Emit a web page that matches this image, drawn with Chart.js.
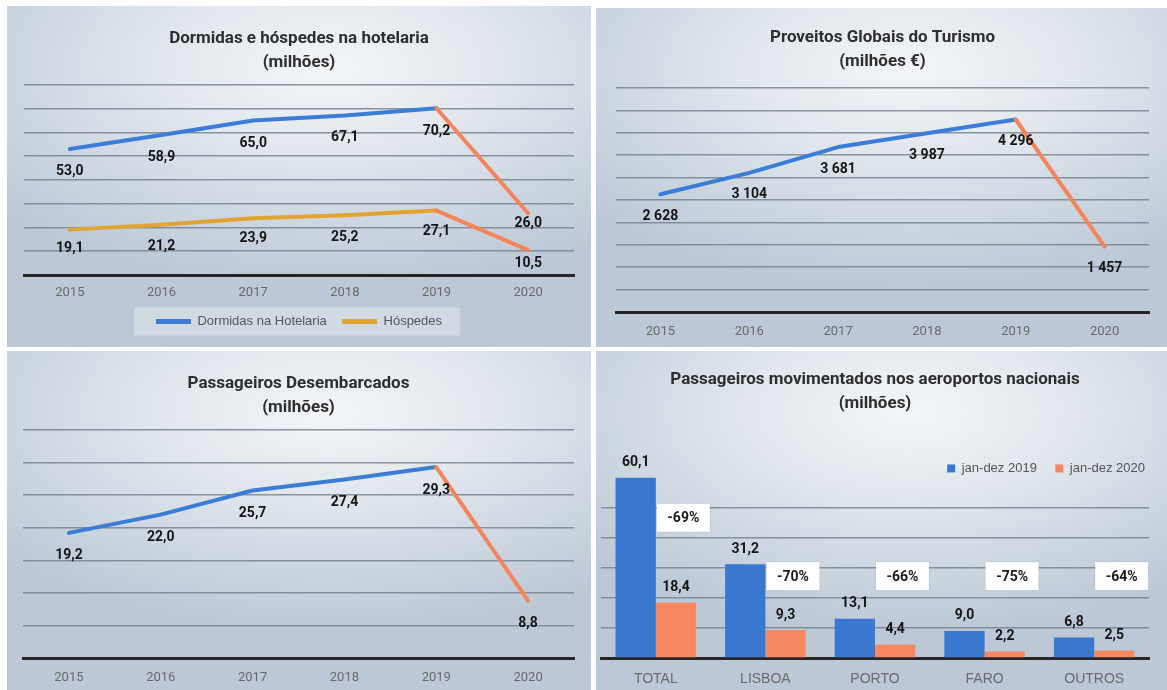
<!DOCTYPE html>
<html>
<head>
<meta charset="utf-8">
<script src="https://cdn.jsdelivr.net/npm/chart.js@4/dist/chart.umd.min.js"></script>
<style>
  body { margin: 0; background: #fff; width: 1167px; height: 690px; overflow: hidden; position: relative; }
  .panel {
    position: absolute;
    background: radial-gradient(ellipse 75% 65% at 55% 18%, #f3f5f7 0%, #e1e7ed 38%, #ccd6e0 72%, #bcc8d6 100%);
  }
  .panel canvas { display: block; }
</style>
</head>
<body>
<div class="panel" style="left:7px;top:6px;width:584px;height:341px"><canvas id="c1" width="584" height="341"></canvas></div>
<div class="panel" style="left:596px;top:8px;width:571px;height:339px"><canvas id="c2" width="571" height="339"></canvas></div>
<div class="panel" style="left:7px;top:351px;width:584px;height:339px"><canvas id="c3" width="584" height="339"></canvas></div>
<div class="panel" style="left:596px;top:351px;width:571px;height:339px"><canvas id="c4" width="571" height="339"></canvas></div>
<script>
// data
const years = ["2015", "2016", "2017", "2018", "2019", "2020"];
const dormidas = [53.0, 58.9, 65.0, 67.1, 70.2, 26.0];
const hospedes = [19.1, 21.2, 23.9, 25.2, 27.1, 10.5];
const proveitos = [2628, 3104, 3681, 3987, 4296, 1457];
const desembarcados = [19.2, 22.0, 25.7, 27.4, 29.3, 8.8];

const airports = ["TOTAL", "LISBOA", "PORTO", "FARO", "OUTROS"];
const pax2019 = [60.1, 31.2, 13.1, 9.0, 6.8];
const pax2020 = [18.4, 9.3, 4.4, 2.2, 2.5];
const paxChange = ["-69%", "-70%", "-66%", "-75%", "-64%"];
const paxChangeAt = [46.7, 27.3, 27.3, 27.3, 27.3]; // where each box sits (millions)

// look
const BLUE = "#3b7dd6";
const ORANGE = "#f5835b";
const GOLD = "#e2a332";
const BAR_BLUE = "#3a78d0";
const BAR_ORANGE = "#f7875f";
const GRID = "rgba(120,132,146,0.85)";
const NARROW = "Roboto, 'Liberation Sans', sans-serif";
const SANS = "'Liberation Sans', Arial, sans-serif";

const dec1 = v => v.toFixed(1).replace(".", ",");
const thousands = v => String(v).replace(/\B(?=(\d{3})+(?!\d))/g, " ");

function valueLabels({ dy, font, fmt, color = "#151515" }) {
  return {
    id: "valueLabels",
    afterDatasetsDraw(chart) {
      const { ctx } = chart;
      ctx.save();
      ctx.font = font;
      ctx.fillStyle = color;
      ctx.textAlign = "center";
      ctx.textBaseline = "middle";
      chart.data.datasets.forEach((ds, i) => {
        const off = Array.isArray(dy[0]) ? dy[i] : dy;
        chart.getDatasetMeta(i).data.forEach((el, j) => {
          const d = Array.isArray(off) ? off[j] : off;
          ctx.fillText(fmt(ds.data[j]), el.x, el.y + d);
        });
      });
      ctx.restore();
    }
  };
}

// light plate behind the legend of the first chart
const legendPlate = {
  id: "legendPlate",
  beforeDraw(chart) {
    const lg = chart.legend;
    if (!lg || !lg.legendHitBoxes || !lg.legendHitBoxes.length) return;
    const hb = lg.legendHitBoxes;
    const x0 = hb[0].left - 22;
    const x1 = hb[hb.length - 1].left + hb[hb.length - 1].width + 18;
    const cy = hb[0].top + hb[0].height / 2;
    chart.ctx.save();
    chart.ctx.fillStyle = "rgba(235,240,245,0.45)";
    chart.ctx.fillRect(x0, cy - 14, x1 - x0, 28);
    chart.ctx.restore();
  }
};

// legend of the bar chart sits a little inside the plot, over the empty top
const legendDrop = {
  id: "legendDrop",
  afterLayout(chart) {
    const lg = chart.legend;
    lg.top += 7;
    lg.bottom += 7;
  }
};

const changeBoxes = {
  id: "changeBoxes",
  afterDatasetsDraw(chart) {
    const { ctx, scales: { x, y } } = chart;
    ctx.save();
    paxChange.forEach((txt, i) => {
      const left = x.getPixelForValue(i) + 1;
      const cy = y.getPixelForValue(paxChangeAt[i]);
      ctx.shadowColor = "rgba(0,0,0,0.12)";
      ctx.shadowBlur = 2;
      ctx.fillStyle = "#ffffff";
      ctx.fillRect(left, cy - 14, 53, 28);
      ctx.shadowColor = "transparent";
      ctx.fillStyle = "#1a1a1a";
      ctx.font = "bold 14px " + NARROW;
      ctx.textAlign = "center";
      ctx.textBaseline = "middle";
      ctx.fillText(txt, left + 26.5, cy + 1);
    });
    ctx.restore();
  }
};

function titleOpts(lines, top, bottom) {
  return {
    display: true,
    text: lines,
    color: "#2e2e2e",
    font: { family: NARROW, size: 17, weight: "bold", lineHeight: 1.41 },
    padding: { top, bottom }
  };
}

function yOpts(max, step, hide = []) {
  return {
    min: 0, max,
    ticks: { display: false, stepSize: step },
    border: { display: false },
    grid: {
      drawTicks: false,
      lineWidth: 1.5,
      color: c => (c.tick.value === 0 || hide.includes(c.tick.value)) ? "transparent" : GRID
    }
  };
}

function xOpts(pad, font, height) {
  return {
    offset: true,
    grid: { display: false, drawTicks: false },
    border: { display: true, color: "#262626", width: 3 },
    ticks: { color: "#6a6a6a", font, padding: pad, maxRotation: 0 },
    afterFit: s => { s.height = height; }
  };
}

function lineSet(label, data, main, drop) {
  return {
    label, data,
    borderColor: main,
    backgroundColor: main,
    borderWidth: 4,
    borderCapStyle: "round",
    borderJoinStyle: "round",
    pointRadius: 0,
    tension: 0,
    clip: false,
    segment: { borderColor: c => c.p0DataIndex === 4 ? drop : main }
  };
}

Chart.defaults.animation = false;
Chart.defaults.responsive = false;
Chart.defaults.plugins.tooltip.enabled = false;

const YEAR_FONT = { family: NARROW, size: 13 };
const VALUE_FONT = "bold 14px " + NARROW;

// 1. Dormidas e hóspedes
new Chart(document.getElementById("c1"), {
  type: "line",
  data: {
    labels: years,
    datasets: [
      lineSet("Dormidas na Hotelaria", dormidas, BLUE, ORANGE),
      lineSet("Hóspedes", hospedes, GOLD, ORANGE)
    ]
  },
  options: {
    layout: { padding: { left: 17, right: 17, top: 0, bottom: 9 } },
    scales: {
      x: xOpts(10, YEAR_FONT, 32),
      y: yOpts(80, 10)
    },
    plugins: {
      title: titleOpts(["Dormidas e hóspedes na hotelaria", "(milhões)"], 21, 10),
      legend: {
        position: "bottom",
        labels: {
          color: "#555",
          font: { family: SANS, size: 13 },
          boxWidth: 35,
          boxHeight: 5,
          padding: 8,
          generateLabels: ch => Chart.defaults.plugins.legend.labels.generateLabels(ch).map((l, i) => ({
            ...l, lineWidth: 0, text: i === 0 ? l.text + "  " : l.text
          }))
        }
      }
    }
  },
  plugins: [legendPlate, valueLabels({
    dy: [[22, 22, 23, 22, 23, 10], [19, 22, 20, 22, 21, 13]],
    font: VALUE_FONT,
    fmt: dec1
  })]
});

// 2. Proveitos globais
new Chart(document.getElementById("c2"), {
  type: "line",
  data: {
    labels: years,
    datasets: [lineSet("Proveitos", proveitos, BLUE, ORANGE)]
  },
  options: {
    layout: { padding: { left: 20, right: 18, top: 0, bottom: 0 } },
    scales: {
      x: xOpts(12, YEAR_FONT, 35),
      y: yOpts(5000, 500)
    },
    plugins: {
      title: titleOpts(["Proveitos Globais do Turismo", "(milhões €)"], 18, 14),
      legend: { display: false }
    }
  },
  plugins: [valueLabels({ dy: 22, font: VALUE_FONT, fmt: thousands })]
});

// 3. Passageiros desembarcados
new Chart(document.getElementById("c3"), {
  type: "line",
  data: {
    labels: years,
    datasets: [lineSet("Passageiros", desembarcados, BLUE, ORANGE)]
  },
  options: {
    layout: { padding: { left: 16, right: 17, top: 0, bottom: 0 } },
    scales: {
      x: xOpts(12, YEAR_FONT, 32),
      y: yOpts(35, 5)
    },
    plugins: {
      title: titleOpts(["Passageiros Desembarcados", "(milhões)"], 21, 10),
      legend: { display: false }
    }
  },
  plugins: [valueLabels({ dy: 23, font: VALUE_FONT, fmt: dec1 })]
});

// 4. Passageiros nos aeroportos
new Chart(document.getElementById("c4"), {
  type: "bar",
  data: {
    labels: airports,
    datasets: [
      { label: "jan-dez 2019", data: pax2019, backgroundColor: BAR_BLUE, borderWidth: 0, clip: false },
      { label: "jan-dez 2020", data: pax2020, backgroundColor: BAR_ORANGE, borderWidth: 0, clip: false }
    ]
  },
  options: {
    barPercentage: 1,
    categoryPercentage: 0.735,
    layout: { padding: { left: 5, right: 18, top: 0, bottom: 0 } },
    scales: {
      x: xOpts(13, { family: SANS, size: 14 }, 32),
      y: yOpts(60, 10, [60])
    },
    plugins: {
      title: titleOpts(["Passageiros movimentados nos aeroportos nacionais", "(milhões)"], 17, 35),
      legend: {
        position: "top",
        align: "end",
        labels: {
          color: "#555",
          font: { family: SANS, size: 13 },
          boxWidth: 8,
          boxHeight: 8,
          padding: 4,
          generateLabels: ch => Chart.defaults.plugins.legend.labels.generateLabels(ch).map((l, i) => ({
            ...l, lineWidth: 0, text: i === 0 ? l.text + "    " : l.text
          }))
        }
      }
    }
  },
  plugins: [legendDrop, changeBoxes, valueLabels({ dy: -15, font: VALUE_FONT, fmt: dec1 })]
});
</script>
</body>
</html>
